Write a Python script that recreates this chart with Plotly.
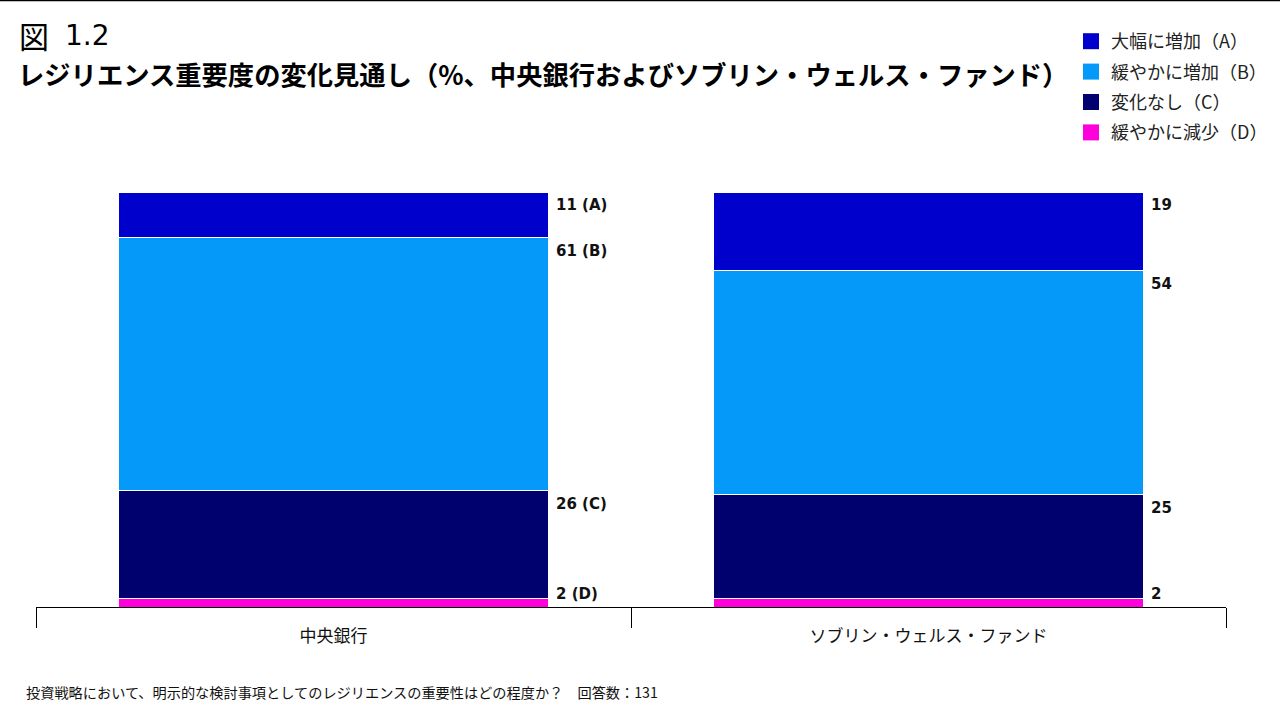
import plotly.graph_objects as go

# ---- data ----
categories = ["中央銀行", "ソブリン・ウェルス・ファンド"]
series_names = ["緩やかに減少（D）", "変化なし（C）", "緩やかに増加（B）", "大幅に増加（A）"]  # bottom -> top
series_keys = ["D", "C", "B", "A"]
central_bank = [2, 26, 61, 11]
sovereign_wealth = [2, 25, 54, 19]
colors = ["#FF00DD", "#00006F", "#0599FA", "#0000CC"]

title_fig = "図"
title_num = "1.2"
title_main = "レジリエンス重要度の変化見通し（%、中央銀行およびソブリン・ウェルス・ファンド）"
footnote = "投資戦略において、明示的な検討事項としてのレジリエンスの重要性はどの程度か？　回答数：131"

JP = "Noto Sans CJK JP"

# ---- layout geometry (px) ----
W, H = 1280, 720
L, R, T, B = 36, 54, 192, 113
pw, ph = W - L - R, H - T - B


def px_x(x):
    return (x - L) / pw


def px_y(y):
    return (H - B - y) / ph


fig = go.Figure()

values = [[central_bank[i], sovereign_wealth[i]] for i in range(4)]
for i in range(4):
    fig.add_trace(go.Bar(
        x=categories, y=values[i], name=series_names[i],
        marker=dict(color=colors[i], line=dict(color="white", width=1)),
        showlegend=False, legendgroup=series_keys[i],
    ))

# legend entries (top to bottom A, B, C, D)
for i in [3, 2, 1, 0]:
    fig.add_trace(go.Scatter(
        x=[None], y=[None], mode="markers", name=series_names[i],
        marker=dict(symbol="square", size=18, color=colors[i]),
        legendgroup=series_keys[i], showlegend=True,
    ))

# value labels
annotations = []
for ci, cat in enumerate(categories):
    vals = [central_bank, sovereign_wealth][ci]
    cum = 0
    for i in range(4):
        cum += vals[i]
        txt = f"{vals[i]} ({series_keys[i]})" if ci == 0 else f"{vals[i]}"
        if i == 0:
            ya, ys = "middle", 5
        else:
            ya, ys = "top", -2
        annotations.append(dict(
            x=cat, y=cum, xref="x", yref="y", text=txt, showarrow=False,
            xanchor="left", yanchor=ya, xshift=220, yshift=ys,
            font=dict(family="DejaVu Sans", size=15, color="#111111", weight="bold"),
        ))

annotations += [
    dict(x=px_x(17), y=px_y(35), xref="paper", yref="paper", text=title_fig,
         showarrow=False, xanchor="left", yanchor="middle",
         font=dict(family=JP, size=30, color="#000000")),
    dict(x=px_x(63), y=px_y(36), xref="paper", yref="paper", text=title_num,
         showarrow=False, xanchor="left", yanchor="middle",
         font=dict(family="DejaVu Sans", size=28, color="#000000")),
    dict(x=px_x(16), y=px_y(73), xref="paper", yref="paper", text=f"<b>{title_main}</b>",
         showarrow=False, xanchor="left", yanchor="middle",
         font=dict(family=JP, size=26.3, color="#000000")),
    dict(x=px_x(24), y=px_y(692), xref="paper", yref="paper", text=footnote,
         showarrow=False, xanchor="left", yanchor="middle",
         font=dict(family=JP, size=14.2, color="#111111")),
]

fig.update_layout(
    width=W, height=H,
    margin=dict(l=L, r=R, t=T, b=B, pad=0, autoexpand=False),
    barmode="stack", bargap=0.277,
    plot_bgcolor="white", paper_bgcolor="white",
    annotations=annotations,
    shapes=[dict(type="line", xref="paper", yref="paper",
                 x0=px_x(0), x1=px_x(W), y0=px_y(0.5), y1=px_y(0.5),
                 line=dict(color="black", width=1.5))],
    legend=dict(x=px_x(1071), y=px_y(23), xanchor="left", yanchor="top",
                font=dict(family=JP, size=18, color="#222222"),
                tracegroupgap=4, bgcolor="rgba(0,0,0,0)", itemsizing="trace"),
    xaxis=dict(type="category", range=[-0.5, 1.5], showgrid=False,
               showline=True, linecolor="black", linewidth=1,
               ticks="outside", tickson="boundaries", ticklen=20, tickcolor="black",
               tickwidth=1, ticklabelstandoff=14,
               tickfont=dict(family=JP, size=17, color="#111111")),
    yaxis=dict(range=[0, 100], visible=False, showgrid=False, zeroline=False),
    showlegend=True,
)

fig.write_html("out.html")
